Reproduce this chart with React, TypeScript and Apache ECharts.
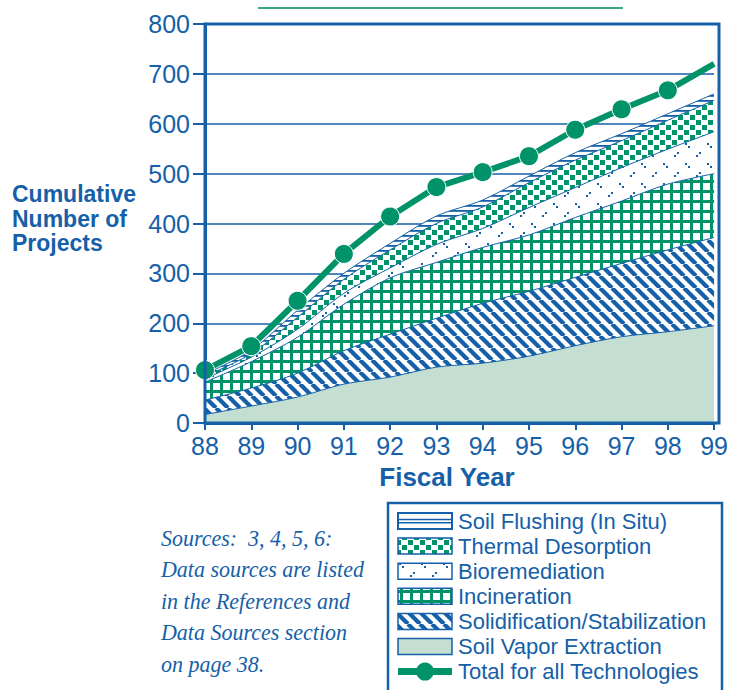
import { useEffect, useRef } from 'react';
import * as echarts from 'echarts';

// ---- data ----
const years = ['88', '89', '90', '91', '92', '93', '94', '95', '96', '97', '98', '99'];
const soilVaporExtraction = [17, 34, 52, 78, 92, 112, 120, 134, 155, 173, 183, 195];
const solidificationStabilization = [29, 36, 48, 67, 86, 98, 120, 130, 137, 147, 164, 177];
const incineration = [36, 53, 72, 93, 113, 112, 112, 113, 120, 125, 132, 128];
const bioremediation = [7, 9, 16, 22, 20, 36, 38, 55, 60, 67, 70, 84];
const thermalDesorption = [5, 7, 24, 28, 36, 42, 43, 50, 55, 54, 58, 63];
const soilFlushing = [4, 7, 14, 12, 13, 15, 14, 13, 15, 14, 13, 13];
const totalAllTechnologies = [106, 154, 245, 339, 414, 473, 503, 535, 588, 629, 667, 720];

const yMin = 0;
const yMax = 800;
const yInterval = 100;

const sourceLines = [
  'Sources:  3, 4, 5, 6:',
  'Data sources are listed',
  'in the References and',
  'Data Sources section',
  'on page 38.',
];

const BLUE = '#1560a8';
const GREEN = '#00936a';
const MINT = '#c4dfd2';
const SANS = '"Liberation Sans", Arial, Helvetica, sans-serif';
const SERIF = '"Liberation Serif", "Times New Roman", serif';

function tile(w: number, h: number, draw: (ctx: CanvasRenderingContext2D) => void) {
  const c = document.createElement('canvas');
  c.width = w;
  c.height = h;
  const ctx = c.getContext('2d') as CanvasRenderingContext2D;
  ctx.fillStyle = '#ffffff';
  ctx.fillRect(0, 0, w, h);
  draw(ctx);
  return { image: c.toDataURL(), repeat: 'repeat', imageWidth: w, imageHeight: h } as any;
}

function makePatterns() {
  const stripes = tile(12, 12, (ctx) => {
    ctx.strokeStyle = BLUE;
    ctx.lineWidth = 4.2;
    for (const off of [-12, 0, 12]) {
      ctx.beginPath();
      ctx.moveTo(off, 0);
      ctx.lineTo(off + 12, 12);
      ctx.stroke();
    }
  });
  const grid = tile(10, 10, (ctx) => {
    ctx.fillStyle = GREEN;
    ctx.fillRect(0, 0, 10, 3);
    ctx.fillRect(0, 0, 3, 10);
  });
  const dots = tile(22, 20, (ctx) => {
    ctx.fillStyle = BLUE;
    ctx.fillRect(3, 3, 2, 2);
    ctx.fillRect(6, 6, 2, 2);
    ctx.fillRect(17, 12, 2, 2);
    ctx.fillRect(14, 15, 2, 2);
  });
  const squares = tile(12, 10, (ctx) => {
    ctx.fillStyle = GREEN;
    ctx.fillRect(0, 0, 5, 5);
    ctx.fillRect(6, 5, 5, 5);
  });
  const hlines = tile(6, 5, (ctx) => {
    ctx.fillStyle = BLUE;
    ctx.fillRect(0, 0, 6, 1.8);
  });
  return { stripes, grid, dots, squares, hlines };
}

export default function App() {
  const ref = useRef<HTMLDivElement>(null);

  useEffect(() => {
    if (!ref.current) return;
    const chart = echarts.init(ref.current, null, { renderer: 'svg' });
    const p = makePatterns();

    const stackSeries = (name: string, data: number[], fill: any) => ({
      name,
      type: 'line',
      stack: 'tech',
      data,
      smooth: 0.3,
      symbol: 'none',
      lineStyle: { color: BLUE, width: 1 },
      itemStyle: { color: BLUE },
      areaStyle: { color: fill, opacity: 1 },
      z: 2,
    });

    const last = totalAllTechnologies.length - 1;

    const legendRows = [
      { name: 'Soil Flushing (In Situ)', kind: 'flush' },
      { name: 'Thermal Desorption', fill: p.squares },
      { name: 'Bioremediation', fill: p.dots },
      { name: 'Incineration', fill: p.grid },
      { name: 'Solidification/Stabilization', fill: p.stripes },
      { name: 'Soil Vapor Extraction', fill: MINT },
      { name: 'Total for all Technologies', kind: 'total' },
    ];

    const legendEls: any[] = [
      {
        type: 'rect',
        shape: { x: 388, y: 503, width: 334, height: 200 },
        style: { fill: '#ffffff', stroke: BLUE, lineWidth: 2.5 },
        z: 50,
      },
    ];
    legendRows.forEach((r, i) => {
      const cy = 521 + i * 25.1;
      if (r.kind === 'total') {
        legendEls.push({
          type: 'line',
          shape: { x1: 398, y1: cy, x2: 452, y2: cy },
          style: { stroke: GREEN, lineWidth: 7 },
          z: 51,
        });
        legendEls.push({
          type: 'circle',
          shape: { cx: 425, cy, r: 9 },
          style: { fill: GREEN },
          z: 52,
        });
      } else if (r.kind === 'flush') {
        legendEls.push({
          type: 'rect',
          shape: { x: 398, y: cy - 8, width: 54, height: 16 },
          style: { fill: '#ffffff', stroke: BLUE, lineWidth: 2 },
          z: 51,
        });
        legendEls.push({
          type: 'line',
          shape: { x1: 398, y1: cy - 1.5, x2: 452, y2: cy - 1.5 },
          style: { stroke: BLUE, lineWidth: 1.5 },
          z: 52,
        });
        legendEls.push({
          type: 'line',
          shape: { x1: 398, y1: cy + 1.8, x2: 452, y2: cy + 1.8 },
          style: { stroke: BLUE, lineWidth: 1.5 },
          z: 52,
        });
      } else {
        legendEls.push({
          type: 'rect',
          shape: { x: 398, y: cy - 8, width: 54, height: 16 },
          style: { fill: r.fill, stroke: BLUE, lineWidth: 1.5 },
          z: 51,
        });
      }
      legendEls.push({
        type: 'text',
        x: 458,
        y: cy,
        style: {
          text: r.name,
          font: `22px ${SANS}`,
          fill: BLUE,
          textAlign: 'left',
          textVerticalAlign: 'middle',
          align: 'left',
          verticalAlign: 'middle',
        },
        z: 52,
      });
    });

    const sourceEls = sourceLines.map((t, i) => ({
      type: 'text',
      x: 161,
      y: 538 + i * 31.5,
      scaleY: 1.08,
      style: {
        text: t,
        font: `italic 22px ${SERIF}`,
        fill: BLUE,
        textAlign: 'left',
        textVerticalAlign: 'middle',
        align: 'left',
        verticalAlign: 'middle',
      },
      z: 50,
    }));

    const yTitle = ['Cumulative', 'Number of', 'Projects'].map((t, i) => ({
      type: 'text',
      x: 12,
      y: 194 + i * 24.5,
      style: {
        text: t,
        font: `bold 23px ${SANS}`,
        fill: BLUE,
        textAlign: 'left',
        textVerticalAlign: 'middle',
        align: 'left',
        verticalAlign: 'middle',
      },
      z: 50,
    }));

    chart.setOption({
      animation: false,
      backgroundColor: '#ffffff',
      grid: { left: 205, right: 12, top: 24, bottom: 267, containLabel: false },
      xAxis: {
        type: 'category',
        data: years,
        boundaryGap: false,
        axisLine: { show: true, lineStyle: { color: BLUE, width: 3 } },
        axisTick: { show: true, length: 7, lineStyle: { color: BLUE, width: 2 } },
        axisLabel: { color: BLUE, fontSize: 25, fontFamily: SANS, margin: 10 },
        splitLine: { show: false },
      },
      yAxis: {
        type: 'value',
        min: yMin,
        max: yMax,
        interval: yInterval,
        axisLine: { show: true, lineStyle: { color: BLUE, width: 3 } },
        axisTick: { show: true, length: 12, lineStyle: { color: BLUE, width: 2 } },
        axisLabel: { color: BLUE, fontSize: 25, fontFamily: SANS, margin: 15 },
        splitLine: { show: true, lineStyle: { color: BLUE, width: 1.5 } },
      },
      series: [
        stackSeries('Soil Vapor Extraction', soilVaporExtraction, MINT),
        stackSeries('Solidification/Stabilization', solidificationStabilization, p.stripes),
        stackSeries('Incineration', incineration, p.grid),
        stackSeries('Bioremediation', bioremediation, p.dots),
        stackSeries('Thermal Desorption', thermalDesorption, p.squares),
        stackSeries('Soil Flushing (In Situ)', soilFlushing, p.hlines),
        {
          name: 'Total for all Technologies',
          type: 'line',
          data: totalAllTechnologies.map((v, i) => (i === last ? { value: v, symbol: 'none' } : v)),
          symbol: 'circle',
          symbolSize: 19,
          lineStyle: { color: GREEN, width: 6 },
          itemStyle: { color: GREEN, borderColor: '#ffffff', borderWidth: 1 },
          z: 5,
        },
      ],
      graphic: [
        {
          type: 'rect',
          shape: { x: 205, y: 24, width: 514, height: 399 },
          style: { fill: 'none', stroke: BLUE, lineWidth: 3 },
          z: 40,
          silent: true,
        },
        {
          type: 'line',
          shape: { x1: 258, y1: 8, x2: 623, y2: 8 },
          style: { stroke: '#3aa57c', lineWidth: 2 },
          z: 40,
        },
        {
          type: 'text',
          x: 447,
          y: 477,
          style: {
            text: 'Fiscal Year',
            font: `bold 26px ${SANS}`,
            fill: BLUE,
            textAlign: 'center',
            textVerticalAlign: 'middle',
            align: 'center',
            verticalAlign: 'middle',
          },
          z: 50,
        },
        ...yTitle,
        ...sourceEls,
        ...legendEls,
      ],
    });

    return () => chart.dispose();
  }, []);

  return (
    <div
      ref={ref}
      style={{ position: 'absolute', left: 0, top: 0, width: 731, height: 690, background: '#fff' }}
    />
  );
}
